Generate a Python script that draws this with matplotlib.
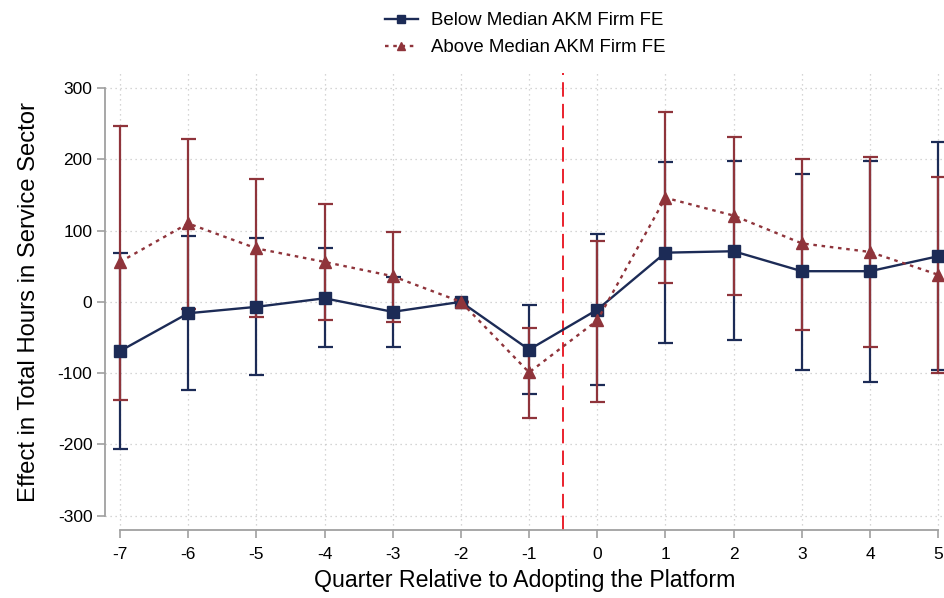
import matplotlib.pyplot as plt
import numpy as np

plt.rcParams["font.family"] = ["Liberation Sans", "DejaVu Sans"]
plt.rcParams["axes.unicode_minus"] = False

quarters = [-7, -6, -5, -4, -3, -2, -1, 0, 1, 2, 3, 4, 5]

below_est = [-69, -16, -7, 5, -14, 0, -67, -11, 69, 71, 43, 43, 64]
below_hi = [68, 92, 89, 75, 35, 0, -4, 95, 196, 197, 180, 198, 224]
below_lo = [-206, -123, -103, -64, -64, 0, -129, -116, -58, -54, -95, -112, -96]

above_est = [56, 110, 75, 56, 36, 0, -99, -26, 146, 121, 82, 70, 38]
above_hi = [247, 229, 173, 137, 98, 0, -36, 86, 266, 231, 201, 203, 175]
above_lo = [-137, -10, -21, -25, -28, 0, -163, -141, 26, 10, -40, -63, -100]

adoption = -0.5

navy = "#1c2b56"
cranberry = "#8f343b"
gray = "#a0a0a0"


def yerr(est, lo, hi):
    est = np.array(est)
    return [est - np.array(lo), np.array(hi) - est]


fig = plt.figure(figsize=(9.45, 5.98), dpi=100)
ax = fig.add_axes([105 / 945, 1 - 530 / 598, 840 / 945, 457 / 598])

# confidence intervals first, then point estimates on top
ax.errorbar(quarters, below_est, yerr=yerr(below_est, below_lo, below_hi),
            fmt="none", ecolor=navy, elinewidth=1.6, capsize=5.4, capthick=1.6, zorder=3)
ax.errorbar(quarters, above_est, yerr=yerr(above_est, above_lo, above_hi),
            fmt="none", ecolor=cranberry, elinewidth=1.6, capsize=5.4, capthick=1.6, zorder=3)
ax.plot(quarters, below_est, color=navy, lw=1.7, marker="s", markersize=8.5,
        label="Below Median AKM Firm FE", zorder=4)
ax.plot(quarters, above_est, color=cranberry, lw=1.7, linestyle=(0, (1.5, 2)),
        marker="^", markersize=8.5, label="Above Median AKM Firm FE", zorder=5)

ax.axvline(adoption, color="#e8101c", lw=1.3, linestyle=(0, (8, 4)), zorder=2)

ax.set_xlim(-7.22, 5.1)
ax.set_ylim(-320, 321)
ax.set_xticks(quarters)
ax.set_yticks(np.arange(-300, 301, 100))
ax.grid(True, color="#c8c8c8", linestyle=(0, (1, 3)), lw=0.9)
ax.set_axisbelow(True)

for side in ["top", "right"]:
    ax.spines[side].set_visible(False)
ax.spines["left"].set_bounds(-300, 300)
ax.spines["bottom"].set_bounds(-7, 5)
for side in ["left", "bottom"]:
    ax.spines[side].set_color(gray)
    ax.spines[side].set_linewidth(1.3)
ax.tick_params(colors=gray, labelcolor="black", length=6, width=1.2,
               labelsize=12.5, pad=3)
ax.tick_params(axis="x", pad=6)

ax.set_xlabel("Quarter Relative to Adopting the Platform", fontsize=16.7, labelpad=5)
ax.set_ylabel("Effect in Total Hours in Service Sector", fontsize=17.2, labelpad=13)

ax.legend(loc="lower center", bbox_to_anchor=(0.5, 1.02), frameon=False,
          fontsize=13.4, handlelength=1.75, handletextpad=0.7, markerscale=0.75,
          labelspacing=0.55, borderaxespad=0)

fig.savefig("out.png", dpi=100)
